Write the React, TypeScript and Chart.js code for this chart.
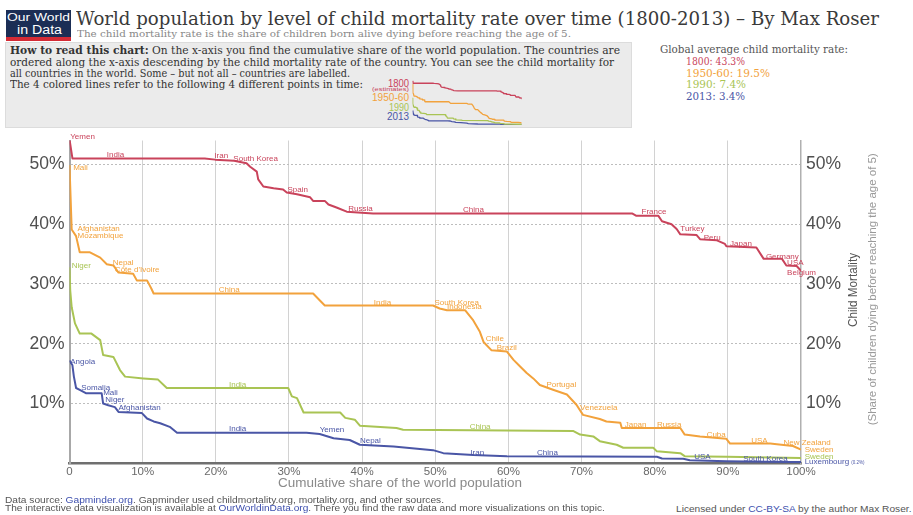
import React, { useEffect, useRef } from 'react';
import { Chart, registerables } from 'chart.js';

Chart.register(...registerables);

const RED = '#c9435b';
const ORANGE = '#f2a23c';
const GREEN = '#a9c454';
const BLUE = '#4a56a6';

const SANS = '"Liberation Sans", Arial, sans-serif';
const SERIF = '"DejaVu Serif", Georgia, serif';

// Cumulative share of the world population (%) and child mortality rate (%)
const share1800 = [0, 0.4, 18.5, 19.9, 22.5, 24.2, 24.7, 25.6, 25.8, 26.5, 27.9, 29.2, 29.7, 31.1, 32.9, 33.3, 34.9, 35.4, 36.5, 37.9, 41.5, 76.9, 77.5, 80.5, 81.0, 82.3, 83.0, 83.5, 85.7, 86.2, 88.5, 89.6, 89.8, 93.9, 94.9, 97.4, 98.0, 99.4, 100];
const rate1800 = [54.2, 51.0, 51.0, 50.8, 50.6, 50.2, 49.6, 48.8, 47.5, 46.3, 46.0, 45.8, 45.3, 45.0, 44.5, 43.9, 43.9, 43.3, 42.8, 42.1, 41.8, 41.8, 41.4, 41.4, 40.5, 40.0, 39.2, 38.3, 38.2, 37.5, 37.3, 36.7, 36.3, 36.1, 34.2, 34.2, 33.1, 33.0, 32.2];

const share1950 = [0, 0.3, 0.9, 1.4, 2.8, 4.2, 5.1, 6.0, 6.7, 8.7, 9.2, 10.6, 11.2, 11.5, 33.3, 34.9, 49.7, 50.6, 51.6, 54.1, 55.2, 56.1, 56.6, 57.7, 59.8, 60.7, 61.6, 62.5, 63.4, 64.3, 66.1, 68.0, 69.3, 70.2, 72.5, 73.4, 75.3, 75.5, 83.5, 84.1, 86.2, 89.8, 90.3, 95.8, 96.7, 98.9, 100];
const rate1950 = [49.9, 39.1, 38.0, 35.3, 35.3, 34.4, 33.3, 33.1, 31.9, 31.7, 30.6, 30.6, 29.2, 28.4, 28.4, 26.4, 26.4, 25.9, 25.6, 25.6, 23.9, 22.0, 20.3, 18.9, 18.7, 17.3, 16.2, 15.1, 14.2, 13.1, 12.3, 11.5, 9.8, 8.1, 7.4, 7.0, 6.8, 5.9, 5.9, 4.8, 4.5, 4.1, 3.3, 3.3, 3.2, 2.9, 2.3];

const share1990 = [0, 0.1, 0.3, 0.75, 1.4, 3.0, 4.2, 4.6, 6.0, 6.9, 7.6, 10.1, 12.1, 13.3, 29.9, 30.4, 31.1, 32.0, 37.0, 37.7, 39.0, 39.7, 44.7, 45.6, 68.9, 69.8, 71.6, 72.5, 74.8, 75.7, 79.8, 80.3, 83.5, 84.1, 89.8, 100];
const rate1990 = [32.8, 28.9, 26.1, 23.4, 21.7, 21.7, 20.6, 18.1, 17.8, 15.6, 14.5, 14.2, 14.0, 12.6, 12.6, 11.2, 10.9, 8.5, 8.5, 7.6, 7.3, 6.3, 5.9, 5.6, 5.4, 4.8, 4.5, 3.7, 3.1, 2.6, 2.6, 2.0, 1.7, 1.2, 1.1, 0.9];

const share2013 = [0, 0.4, 0.6, 0.9, 1.4, 2.3, 4.4, 4.6, 5.3, 6.2, 6.7, 9.9, 10.6, 11.5, 12.4, 13.7, 14.2, 14.7, 32.4, 34.2, 36.1, 38.3, 39.7, 44.3, 49.7, 51.1, 55.2, 59.8, 80.3, 81.0, 83.9, 84.8, 89.8, 98.0, 100];
const rate2013 = [17.2, 16.4, 14.5, 12.6, 12.3, 11.7, 11.7, 10.0, 9.7, 9.4, 8.6, 8.4, 7.5, 7.0, 6.7, 6.1, 5.6, 5.1, 5.1, 4.9, 4.2, 3.9, 3.1, 2.8, 2.2, 1.7, 1.4, 1.2, 1.1, 0.8, 0.75, 0.5, 0.35, 0.2, 0.2];

// Country labels: [name, share %, mortality %]
const tags1800: [string, number, number][] = [
  ['Yemen', 0.1, 54.7], ['India', 5.1, 51.6], ['Iran', 19.8, 51.4], ['South Korea', 22.4, 50.9],
  ['Spain', 29.8, 45.7], ['Russia', 38.1, 42.5], ['China', 53.8, 42.4], ['France', 78.2, 42.0],
  ['Turkey', 83.5, 39.2], ['Peru', 86.7, 37.7], ['Japan', 90.3, 36.8], ['Germany', 95.2, 34.5],
  ['USA', 98.1, 33.5], ['Belgium', 98.1, 31.8],
];
const tags1950: [string, number, number][] = [
  ['Mali', 0.5, 49.4], ['Afghanistan', 1.1, 39.2], ['Mozambique', 1.1, 38.0], ['Nepal', 5.9, 33.5],
  ["Côte d'Ivoire", 6.2, 32.3], ['China', 20.4, 29.0], ['India', 41.6, 26.8], ['South Korea', 49.9, 26.9],
  ['Indonesia', 51.6, 26.1], ['Chile', 56.9, 20.8], ['Brazil', 58.4, 19.3], ['Portugal', 65.2, 13.2],
  ['Venezuela', 69.8, 9.3], ['Japan', 75.9, 6.5], ['Russia', 80.3, 6.5], ['Cuba', 87.1, 4.7],
  ['USA', 93.2, 3.7], ['New Zealand', 97.6, 3.5], ['Sweden', 100.5, 2.2],
];
const tags1990: [string, number, number][] = [
  ['Niger', 0.3, 33.0], ['India', 21.8, 13.1], ['China', 54.7, 6.1], ['Sweden', 100.5, 1.1],
];
const tags2013: [string, number, number][] = [
  ['Angola', 0.1, 17.0], ['Somalia', 1.6, 12.6], ['Mali', 4.6, 11.8], ['Niger', 4.9, 10.7],
  ['Afghanistan', 6.7, 9.3], ['India', 21.8, 5.7], ['Yemen', 34.2, 5.55], ['Nepal', 39.7, 3.7],
  ['Iran', 54.8, 1.8], ['China', 63.9, 1.8], ['USA', 85.4, 1.1], ['South Korea', 92.1, 0.8],
  ['Luxembourg', 100.5, 0.17],
];

const X_MIN = 0;
const X_MAX = 100;
const Y_MIN = 0;
const Y_MAX = 54;
const STEP = 10;

const pts = (xs: number[], ys: number[]) => xs.map((x, i) => ({ x, y: ys[i] }));

const seriesDefs = [
  { label: '1800', xs: share1800, ys: rate1800, color: RED, tags: tags1800 },
  { label: '1950-60', xs: share1950, ys: rate1950, color: ORANGE, tags: tags1950 },
  { label: '1990', xs: share1990, ys: rate1990, color: GREEN, tags: tags1990 },
  { label: '2013', xs: share2013, ys: rate2013, color: BLUE, tags: tags2013 },
];

const mctx: any = typeof document !== 'undefined' ? document.createElement('canvas').getContext('2d') : null;
function measure(text: string, font: string) {
  if (!mctx) return text.length * 6;
  mctx.font = font;
  return mctx.measureText(text).width;
}

type Seg = { t: string; c?: string; b?: boolean };

function FitLine({ segs, x, base, w, size, family, color }: { segs: Seg[]; x: number; base: number; w: number; size: number; family: string; color: string }) {
  let total = 0;
  for (const s of segs) total += measure(s.t, `${s.b ? 'bold' : 'normal'} ${size}px ${family}`);
  const k = total > 0 ? w / total : 1;
  return (
    <div
      style={{
        position: 'absolute', left: x, top: base - 0.845 * size, whiteSpace: 'pre',
        fontFamily: family, fontSize: size, lineHeight: `${size}px`, color,
        transform: `scaleX(${k})`, transformOrigin: '0 0',
      }}
    >
      {segs.map((s, i) => (
        <span key={i} style={{ color: s.c || color, fontWeight: s.b ? 'bold' : 'normal' }}>{s.t}</span>
      ))}
    </div>
  );
}

function RotLine({ text, cx, cy, len, size, family, color }: { text: string; cx: number; cy: number; len: number; size: number; family: string; color: string }) {
  const m = measure(text, `normal ${size}px ${family}`);
  const k = len / m;
  return (
    <div
      style={{
        position: 'absolute', left: cx - m / 2, top: cy - size / 2, width: m, height: size,
        lineHeight: `${size}px`, fontSize: size, fontFamily: family, color, whiteSpace: 'pre',
        transform: `rotate(-90deg) scaleX(${k})`, transformOrigin: '50% 50%',
      }}
    >
      {text}
    </div>
  );
}

const labelPlugin = {
  id: 'countryLabels',
  afterDatasetsDraw(chart: any) {
    const { ctx } = chart;
    const xs = chart.scales.x;
    const ys = chart.scales.y;
    ctx.save();
    ctx.textAlign = 'left';
    ctx.textBaseline = 'middle';
    for (const s of seriesDefs) {
      ctx.fillStyle = s.color;
      ctx.font = `8px ${SANS}`;
      for (const [name, lx, ly] of s.tags) {
        const px = xs.getPixelForValue(lx);
        const py = ys.getPixelForValue(ly);
        ctx.fillText(name, px, py);
        if (name === 'Luxembourg') {
          const wdt = ctx.measureText(name).width;
          ctx.font = `4.5px ${SANS}`;
          ctx.fillText('(0.2%)', px + wdt + 2, py + 0.5);
          ctx.font = `8px ${SANS}`;
        }
      }
    }
    ctx.restore();
  },
};

export default function App() {
  const mainRef = useRef<HTMLCanvasElement | null>(null);
  const miniRef = useRef<HTMLCanvasElement | null>(null);

  useEffect(() => {
    Chart.defaults.font.family = SANS;
    const datasets = (bw: number) =>
      seriesDefs.map((s) => ({
        label: s.label,
        data: pts(s.xs, s.ys),
        borderColor: s.color,
        backgroundColor: s.color,
        borderWidth: bw,
        pointRadius: 0,
        tension: 0,
        fill: false,
        borderJoinStyle: 'round' as const,
      }));

    const yTicks = {
      stepSize: STEP,
      includeBounds: false,
      font: { size: 17.5, family: SANS },
      color: '#505050',
      padding: 5,
      callback: (v: any) => (v === 0 ? '' : `${v}%`),
    };

    const main = new Chart(mainRef.current as HTMLCanvasElement, {
      type: 'line',
      data: { datasets: datasets(2) as any },
      options: {
        animation: false,
        responsive: false,
        maintainAspectRatio: false,
        layout: { padding: { top: 15, bottom: 0, left: 0, right: 0 } },
        plugins: { legend: { display: false }, tooltip: { enabled: false } },
        scales: {
          x: {
            type: 'linear',
            min: X_MIN,
            max: X_MAX,
            ticks: {
              stepSize: STEP,
              autoSkip: false,
              maxRotation: 0,
              padding: 2,
              font: { size: 11.5, family: SANS },
              color: '#6a6a6a',
              callback: (v: any) => (v === 0 ? '0' : `${v}%`),
            },
            grid: {
              drawTicks: false,
              lineWidth: 1,
              color: (c: any) => (c.tick && (c.tick.value === X_MIN || c.tick.value === X_MAX) ? 'rgba(0,0,0,0)' : '#d2d2d2'),
            },
            border: { color: '#6f6f6f', width: 2.5 },
            afterFit: (s: any) => { s.height = 27.7; },
          },
          y: {
            type: 'linear',
            position: 'left',
            min: Y_MIN,
            max: Y_MAX,
            ticks: yTicks as any,
            grid: {
              drawTicks: false,
              lineWidth: 1,
              color: (c: any) => (c.tick && c.tick.value === 0 ? 'rgba(0,0,0,0)' : '#bdbdbd'),
            },
            border: { color: '#a8a8a8', width: 2, dash: [2, 2] },
            afterFit: (s: any) => { s.width = 69.5; },
          },
          y2: {
            type: 'linear',
            position: 'right',
            min: Y_MIN,
            max: Y_MAX,
            ticks: yTicks as any,
            grid: { drawOnChartArea: false, drawTicks: false },
            border: { color: '#b0b0b0', width: 1.5 },
            afterFit: (s: any) => { s.width = 112; },
          },
        },
      },
      plugins: [labelPlugin],
    });

    const mini = new Chart(miniRef.current as HTMLCanvasElement, {
      type: 'line',
      data: { datasets: datasets(1.3) as any },
      options: {
        animation: false,
        responsive: false,
        maintainAspectRatio: false,
        layout: { padding: { top: 2.8, bottom: 3, left: 2.5, right: 3.3 } },
        plugins: { legend: { display: false }, tooltip: { enabled: false } },
        scales: {
          x: { type: 'linear', min: X_MIN, max: X_MAX, display: false },
          y: { type: 'linear', min: Y_MIN, max: Y_MAX, display: false },
        },
      },
    });

    return () => {
      main.destroy();
      mini.destroy();
    };
  }, []);

  return (
    <div style={{ position: 'absolute', left: 0, top: 0, width: 913, height: 515, background: '#fff', overflow: 'hidden' }}>
      {/* Logo */}
      <div style={{ position: 'absolute', left: 6, top: 10, width: 65, height: 27.3, background: '#1b2e55' }} />
      <div style={{ position: 'absolute', left: 6, top: 37.3, width: 65, height: 3.5, background: '#d42b35' }} />
      <FitLine segs={[{ t: 'Our World' }]} x={7.3} base={21.5} w={63} size={11.5} family={SANS} color="#ffffff" />
      <FitLine segs={[{ t: 'in Data' }]} x={16.7} base={35} w={45} size={12.5} family={SANS} color="#ffffff" />

      {/* Title */}
      <FitLine segs={[{ t: 'World population by level of child mortality rate over time (1800-2013) – By Max Roser' }]} x={76} base={25.5} w={803} size={18.5} family={SERIF} color="#3a3a3a" />
      <FitLine segs={[{ t: 'The child mortality rate is the share of children born alive dying before reaching the age of 5.' }]} x={76.7} base={37} w={494} size={9.5} family={SERIF} color="#888" />

      {/* How to read box */}
      <div style={{ position: 'absolute', left: 5, top: 41.7, width: 626.7, height: 86.6, background: '#ebebeb', border: '1px solid #dcdcdc', boxSizing: 'border-box' }} />
      <FitLine segs={[{ t: 'How to read this chart:', b: true }, { t: ' On the x-axis you find the cumulative share of the world population. The countries are' }]} x={10} base={54.3} w={610} size={10.5} family={SERIF} color="#333" />
      <FitLine segs={[{ t: 'ordered along the x-axis descending by the child mortality rate of the country. You can see the child mortality for' }]} x={10} base={65.9} w={604} size={10.5} family={SERIF} color="#333" />
      <FitLine segs={[{ t: 'all countries in the world. Some – but not all – countries are labelled.' }]} x={10} base={77} w={340} size={10.5} family={SERIF} color="#333" />
      <FitLine segs={[{ t: 'The 4 colored lines refer to the following 4 different points in time:' }]} x={10} base={88} w={353} size={10.5} family={SERIF} color="#333" />

      {/* Mini chart legend labels */}
      <FitLine segs={[{ t: '1800' }]} x={388} base={87.5} w={21} size={10} family={SANS} color={RED} />
      <FitLine segs={[{ t: '(estimates)' }]} x={372} base={92} w={37} size={5.5} family={SANS} color={RED} />
      <FitLine segs={[{ t: '1950-60' }]} x={372} base={101.5} w={37} size={10} family={SANS} color={ORANGE} />
      <FitLine segs={[{ t: '1990' }]} x={389} base={111.2} w={20} size={10} family={SANS} color={GREEN} />
      <FitLine segs={[{ t: '2013' }]} x={387} base={120.5} w={22} size={10} family={SANS} color={BLUE} />
      <canvas ref={miniRef} width={115} height={50} style={{ position: 'absolute', left: 410, top: 78, width: 115, height: 50 }} />

      {/* Global average legend */}
      <FitLine segs={[{ t: 'Global average child mortality rate:' }]} x={660} base={53} w={188} size={10.5} family={SERIF} color="#555" />
      <FitLine segs={[{ t: '1800: 43.3%' }]} x={686} base={65} w={59} size={10.5} family={SERIF} color={RED} />
      <FitLine segs={[{ t: '1950-60: 19.5%' }]} x={686} base={76.5} w={84} size={10.5} family={SERIF} color={ORANGE} />
      <FitLine segs={[{ t: '1990: 7.4%' }]} x={686} base={88} w={60} size={10.5} family={SERIF} color={GREEN} />
      <FitLine segs={[{ t: '2013: 3.4%' }]} x={686} base={99.5} w={59} size={10.5} family={SERIF} color={BLUE} />

      {/* Main chart */}
      <canvas ref={mainRef} width={913} height={366} style={{ position: 'absolute', left: 0, top: 125, width: 913, height: 366 }} />

      {/* Axis titles */}
      <FitLine segs={[{ t: 'Cumulative share of the world population' }]} x={278} base={487} w={244} size={13} family={SANS} color="#8a8a8a" />
      <RotLine text="Child Mortality" cx={853} cy={290} len={74} size={12} family={SANS} color="#555" />
      <RotLine text="(Share of children dying before reaching the age of 5)" cx={872} cy={289} len={272} size={10.5} family={SANS} color="#9a9a9a" />

      {/* Footer */}
      <FitLine segs={[{ t: 'Data source: ' }, { t: 'Gapminder.org', c: '#3d4fae' }, { t: '. Gapminder used childmortality.org, mortality.org, and other sources.' }]} x={5} base={503.3} w={439} size={9} family={SANS} color="#555" />
      <FitLine segs={[{ t: 'The interactive data visualization is available at ' }, { t: 'OurWorldinData.org', c: '#3d4fae' }, { t: '. There you find the raw data and more visualizations on this topic.' }]} x={5} base={512} w={600} size={9} family={SANS} color="#555" />
      <FitLine segs={[{ t: 'Licensed under ' }, { t: 'CC-BY-SA', c: '#3d4fae' }, { t: ' by the author Max Roser.' }]} x={676} base={512.5} w={236} size={9} family={SANS} color="#555" />
    </div>
  );
}
